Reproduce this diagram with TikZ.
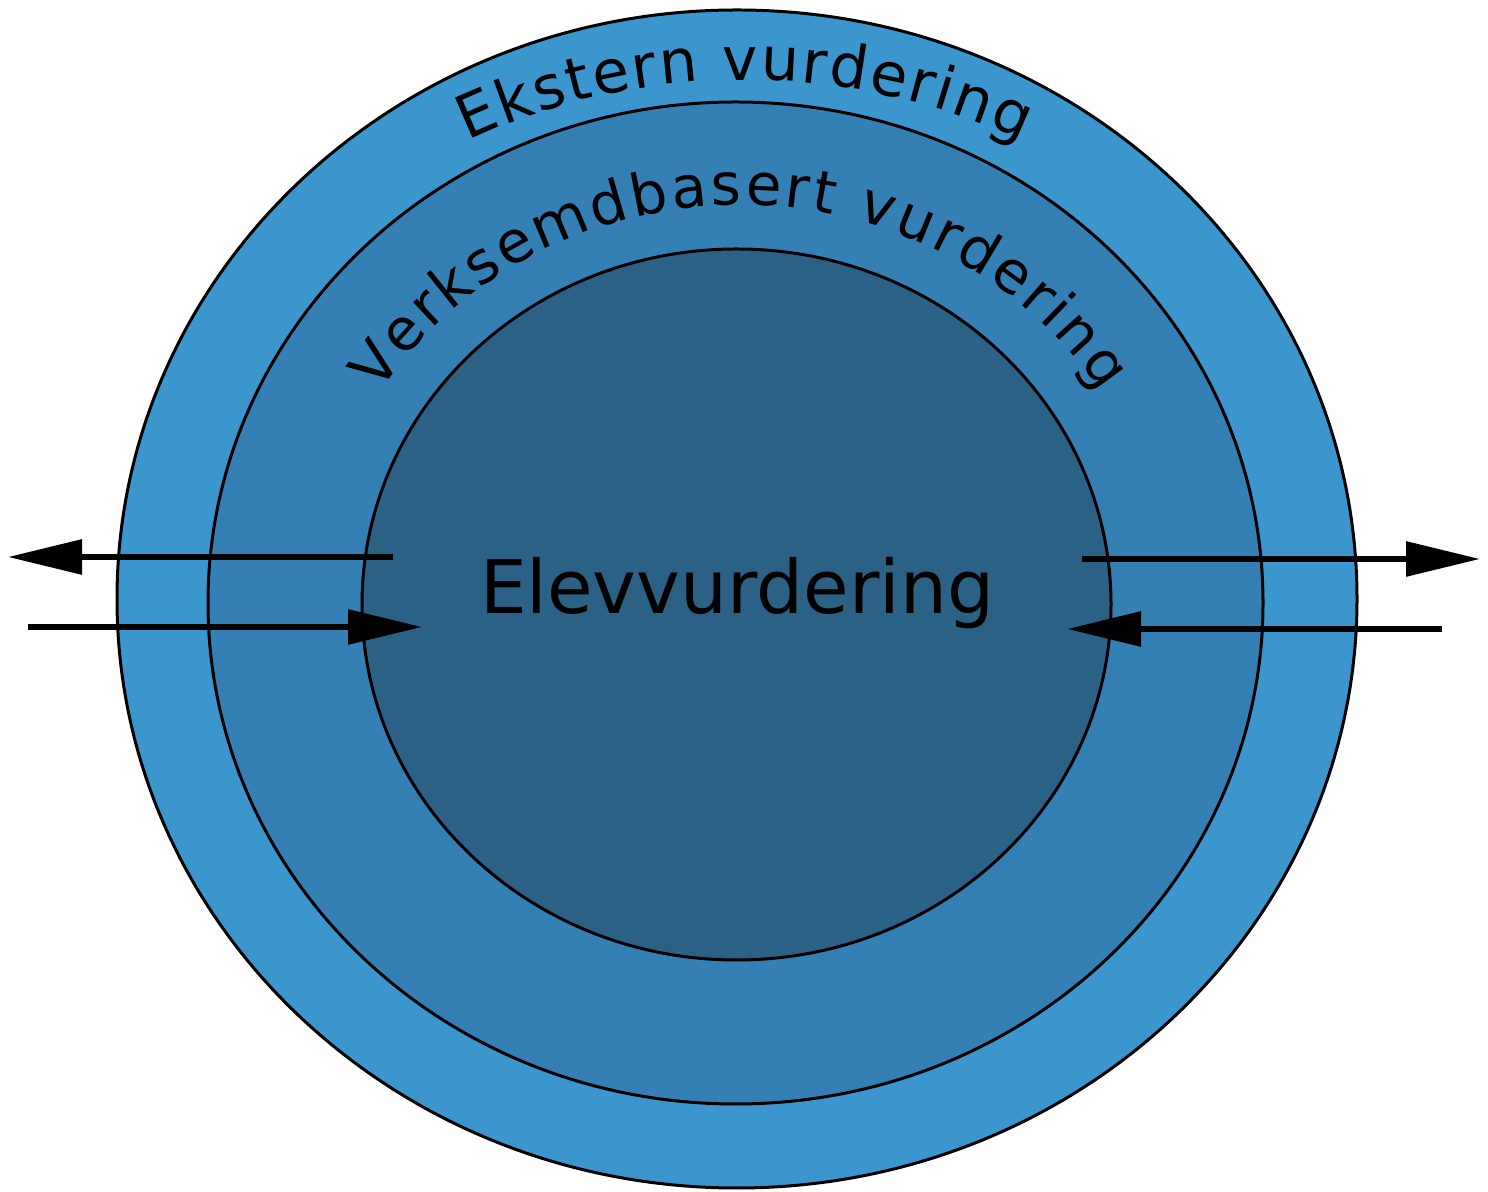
\documentclass[tikz,border=0pt]{standalone}
\usepackage{fontspec}
\setmainfont{DejaVu Sans}
\usetikzlibrary{shapes.geometric,arrows.meta,decorations.text,calc}
\definecolor{ringouter}{RGB}{59,150,206}
\definecolor{ringmiddle}{RGB}{52,127,180}
\definecolor{ringinner}{RGB}{44,97,134}
\newcommand\curvefont{\fontsize{60pt}{60pt}\selectfont}
\newcommand\curvefontb{\fontsize{58pt}{58pt}\selectfont}
\tikzset{
  ring/.style={ellipse, draw=black, line width=3pt, inner sep=0pt, outer sep=0pt},
  flow/.style={line width=6pt, -{Triangle[length=74pt,width=34pt]}},
  maintext/.style={font=\fontsize{74pt}{74pt}\selectfont, inner sep=0pt, anchor=base}
}
\begin{document}
\begin{tikzpicture}[x=1pt,y=1pt]
\useasboundingbox (0,0) rectangle (1488,1191);
\fill[white] (0,0) rectangle (1488,1191);
\node[ring, fill=ringouter, minimum width=1240pt, minimum height=1178pt] (outer) at (737,592) {};
\node[ring, fill=ringmiddle, minimum width=1055pt, minimum height=1002pt] (middle) at (735.5,588) {};
\node[ring, fill=ringinner, minimum width=749pt, minimum height=711pt] (inner) at (736.5,586.5) {};
\node[maintext] (elev) at (737,577) {Elevvurdering};
\path[decorate, decoration={text along path, text={|\curvefont|Ekstern vurdering}, text align={fit to path}}]
  ($(745,588)+(118:590pt and 523pt)$) arc[start angle=118, end angle=62, x radius=590pt, y radius=523pt];
\path[decorate, decoration={text along path, text={|\curvefontb|Verksemdbasert vurdering}, text align={fit to path}}]
  ($(740,587)+(148:425pt and 399pt)$) arc[start angle=148, end angle=32, x radius=425pt, y radius=399pt];
\coordinate (a1s) at (393,634);
\coordinate (a1e) at (8,634);
\coordinate (a2s) at (28,564);
\coordinate (a2e) at (422,564);
\coordinate (a3s) at (1082,632);
\coordinate (a3e) at (1480,632);
\coordinate (a4s) at (1442,562);
\coordinate (a4e) at (1067,562);
\draw[flow] (a1s) -- (a1e);
\draw[flow] (a2s) -- (a2e);
\draw[flow] (a3s) -- (a3e);
\draw[flow] (a4s) -- (a4e);
\end{tikzpicture}
\end{document}
